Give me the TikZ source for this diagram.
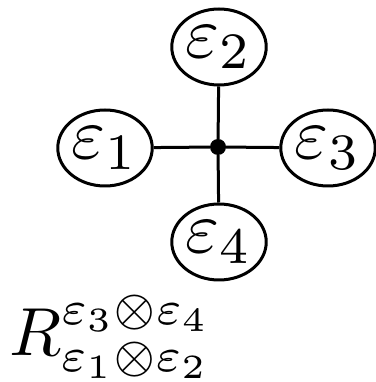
\documentclass[tikz,border=0pt]{standalone}
\usepackage{amsmath,amssymb}
\usepackage{graphicx}
\usetikzlibrary{shapes.geometric}

\newcommand{\huget}[1]{\scalebox{7.3}{#1}}
\newcommand{\labelt}[1]{\scalebox{6.8}{#1}}

\tikzset{
  vnode/.style={draw,ellipse,line width=3pt,minimum width=90pt,minimum height=76pt,inner sep=0pt},
  leg/.style={line width=3pt}
}

\begin{document}
\begin{tikzpicture}[x=1pt,y=1pt]
  \useasboundingbox (0,0) rectangle (375,382);
  \node[circle,fill=black,inner sep=0pt,minimum size=16pt] (c) at (218,235) {};
  \node[vnode] (e1) at (105,234) {\huget{$\varepsilon_1$}};
  \node[vnode] (e2) at (219,335) {\huget{$\varepsilon_2$}};
  \node[vnode] (e3) at (328,234) {\huget{$\varepsilon_3$}};
  \node[vnode] (e4) at (219,140) {\huget{$\varepsilon_4$}};
  \draw[leg] (e1) -- (c);
  \draw[leg] (e2) -- (c);
  \draw[leg] (e3) -- (c);
  \draw[leg] (e4) -- (c);
  \node[anchor=base west,inner sep=0pt] (r) at (9,27) {\labelt{$R^{\varepsilon_3\otimes\varepsilon_4}_{\varepsilon_1\otimes\varepsilon_2}$}};
\end{tikzpicture}
\end{document}
